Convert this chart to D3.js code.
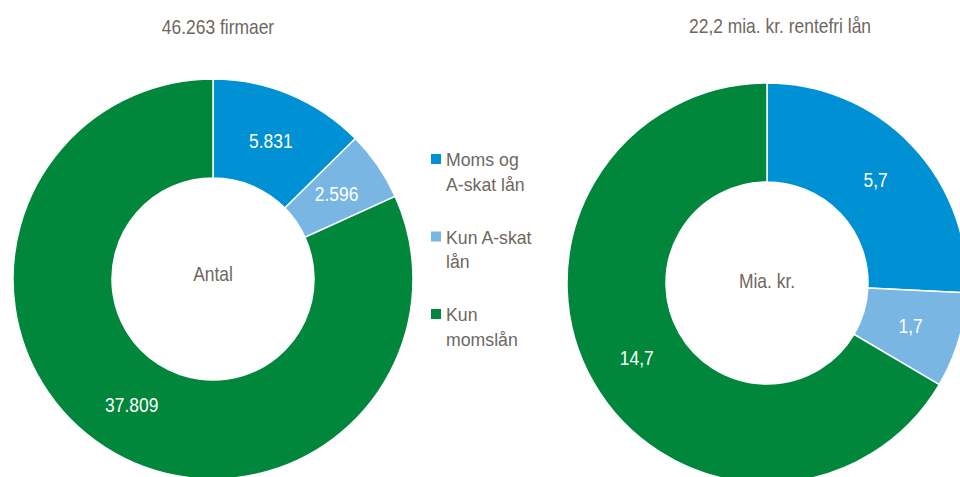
<!DOCTYPE html>
<html>
<head>
<meta charset="utf-8">
<script src="https://cdn.jsdelivr.net/npm/d3@7"></script>
<style>
  body { margin: 0; background: #fff; }
  text { font-family: "Liberation Sans", Arial, sans-serif; }
</style>
</head>
<body>
<svg width="960" height="477"></svg>
<script>
(function () {
  const categories = ["Moms og A-skat lån", "Kun A-skat lån", "Kun momslån"];
  const legendLines = [["Moms og", "A-skat lån"], ["Kun A-skat", "lån"], ["Kun", "momslån"]];
  const antal = [5831, 2596, 37809];
  const antalLabels = ["5.831", "2.596", "37.809"];
  const mia = [5.7, 1.7, 14.7];
  const miaLabels = ["5,7", "1,7", "14,7"];
  const titles = ["46.263 firmaer", "22,2 mia. kr. rentefri lån"];
  const centerLabels = ["Antal", "Mia. kr."];

  const colors = ["#0091d5", "#79b6e4", "#00873b"];
  const textColor = "#6e675f";
  const sx = 0.85; // tekst i figuren er smallere end almindelig Arial

  const svg = d3.select("svg");
  const outerR = 200;
  const innerR = 101;

  const pie = d3.pie().sort(null).value((d) => d);
  const arc = d3.arc().innerRadius(innerR).outerRadius(outerR);
  const labelArc = d3.arc().innerRadius(150).outerRadius(150);

  const donuts = [
    { cx: 213, cy: 279, values: antal, labels: antalLabels, title: titles[0], titleX: 218, titleY: 34, center: centerLabels[0], centerDy: -5 },
    { cx: 767, cy: 283, values: mia, labels: miaLabels, title: titles[1], titleX: 780, titleY: 32.5, center: centerLabels[1], centerDy: -2.5 }
  ];

  donuts.forEach(function (dn) {
    const g = svg.append("g")
      .attr("transform", `translate(${dn.cx}, ${dn.cy})`);

    const slices = pie(dn.values);

    g.selectAll("path")
      .data(slices)
      .enter()
      .append("path")
      .attr("d", arc)
      .attr("fill", (d, i) => colors[i])
      .attr("stroke", "#fff")
      .attr("stroke-width", 1.5);

    g.selectAll("text.val")
      .data(slices)
      .enter()
      .append("text")
      .attr("class", "val")
      .attr("transform", (d) => `translate(${labelArc.centroid(d)}) scale(${sx}, 1)`)
      .attr("text-anchor", "middle")
      .attr("dy", "0.36em")
      .attr("fill", "#fff")
      .style("font-size", "20.5px")
      .text((d, i) => dn.labels[i]);

    g.append("text")
      .attr("transform", `translate(0, ${dn.centerDy}) scale(${sx}, 1)`)
      .attr("dy", "0.36em")
      .attr("text-anchor", "middle")
      .attr("fill", textColor)
      .style("font-size", "20.5px")
      .text(dn.center);

    svg.append("text")
      .attr("transform", `translate(${dn.titleX}, ${dn.titleY}) scale(${sx}, 1)`)
      .attr("text-anchor", "middle")
      .attr("fill", textColor)
      .style("font-size", "20.5px")
      .text(dn.title);
  });

  // forklaring
  const legend = svg.append("g").attr("transform", "translate(431, 154)");
  const item = legend.selectAll("g")
    .data(categories)
    .enter()
    .append("g")
    .attr("transform", (d, i) => `translate(0, ${i * 77.5})`);

  item.append("rect")
    .attr("width", 10)
    .attr("height", 10)
    .attr("fill", (d, i) => colors[i]);

  item.append("text")
    .attr("x", 15)
    .attr("y", 12)
    .attr("fill", textColor)
    .style("font-size", "17.7px")
    .selectAll("tspan")
    .data((d, i) => legendLines[i])
    .enter()
    .append("tspan")
    .attr("x", 15)
    .attr("dy", (d, j) => j === 0 ? 0 : 24.5)
    .text((d) => d);
})()
</script>
</body>
</html>
